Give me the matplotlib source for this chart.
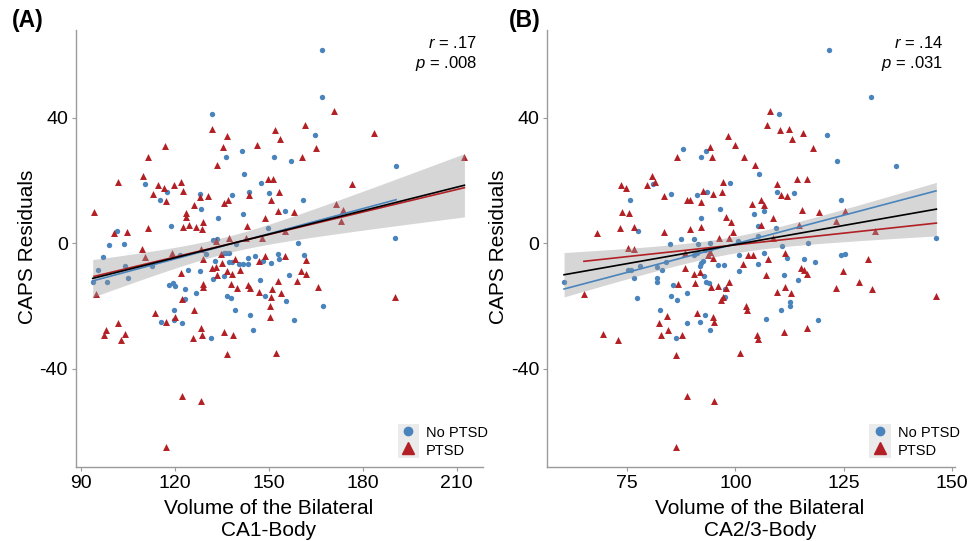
import numpy as np
import matplotlib
matplotlib.use("Agg")
import matplotlib.pyplot as plt
from matplotlib.legend_handler import HandlerTuple
from matplotlib.patches import Rectangle
from matplotlib.lines import Line2D

plt.rcParams['font.family'] = ['Liberation Sans', 'DejaVu Sans']
plt.rcParams['mathtext.fontset'] = 'custom'
plt.rcParams['mathtext.rm'] = 'Liberation Sans'
plt.rcParams['mathtext.it'] = 'Liberation Sans:italic'
plt.rcParams['axes.unicode_minus'] = False

# ---------------- data ----------------
groups = ["No PTSD", "PTSD"]
panel_letters = ["(A)", "(B)"]
xlabels = ["Volume of the Bilateral\nCA1-Body", "Volume of the Bilateral\nCA2/3-Body"]
ylabel = "CAPS Residuals"
stats_text = ["$\\it{r}$ = .17\n$\\it{p}$ = .008", "$\\it{r}$ = .14\n$\\it{p}$ = .031"]
xticksA = [90, 120, 150, 180, 210]
xticksB = [75, 100, 125, 150]
yticks = [-40, 0, 40]

# Panel A: CA1-Body
blueA_x = [167.0,167.0,132.0,164.9,141.4,136.5,151.6,157.2,190.7,142.3,
           110.5,147.5,117.7,143.7,150.1,138.2,128.2,115.5,160.9,128.3,
           141.8,155.4,134.0,119.0,101.6,149.8,99.0,103.8,132.2,133.6,
           159.5,190.2,97.1,95.5,93.9,98.5,104.3,105.1,112.8,118.2,
           119.5,120.3,123.3,124.4,121.8,128.0,129.9,126.9,123.3,119.8,
           119.8,115.8,122.5,131.7,132.4,133.0,135.7,136.5,137.3,137.3,
           138.4,139.7,140.7,142.0,143.4,143.6,145.7,135.9,136.9,138.0,
           139.2,144.2,145.2,147.2,148.9,150.8,148.1,153.0,153.4,155.6,
           156.5,158.1,161.2,167.3]
blueA_y = [61.7,46.6,41.2,34.5,29.5,27.6,27.6,26.1,24.6,22.1,
           19.0,19.3,16.3,16.3,16.1,15.5,15.8,13.7,13.9,10.8,
           9.4,10.4,8.1,5.6,3.9,5.0,-0.5,-0.3,1.1,1.3,
           0.2,1.8,-4.4,-8.6,-12.5,-12.3,-7.2,-11.2,-7.4,-13.4,
           -12.6,-13.6,-14.6,-8.6,-3.8,-8.8,-3.4,-16.0,-17.9,-21.4,
           -24.4,-25.2,-25.4,-30.3,-11.4,-5.7,-3.2,-3.0,-3.0,-5.9,
           -5.9,-0.3,-6.7,-6.7,-6.7,-4.6,-4.0,-10.4,-16.8,-17.6,
           -21.3,-22.9,-27.6,-11.8,-16.8,-6.4,-5.7,-3.4,-5.1,-18.6,
           -10.2,-24.6,-3.8,-20.0]
redA_x = [171.0,132.0,136.7,152.1,161.6,153.8,183.6,117.0,135.5,146.2,
          165.0,111.6,160.8,212.5,133.6,101.9,110.1,122.2,176.6,114.6,
          116.5,119.8,122.8,113.2,117.2,130.7,128.2,149.9,151.4,153.3,
          143.9,150.7,135.7,137.2,126.3,158.0,153.1,171.5,173.6,173.0,
          94.3,123.6,123.7,129.0,122.8,124.5,126.7,128.9,143.2,148.9,
          111.6,100.6,104.7,155.4,109.7,119.1,128.6,137.5,142.9,147.8,
          110.7,94.9,98.2,97.4,102.1,104.1,103.0,113.8,117.4,120.0,
          122.0,122.5,126.2,125.8,128.5,128.8,129.2,129.2,129.2,131.9,
          133.3,133.6,133.1,134.9,135.3,136.8,138.4,138.0,139.4,140.8,
          140.0,135.7,138.5,136.9,143.4,144.1,146.8,147.0,148.8,152.9,
          151.0,150.8,154.1,150.4,150.4,152.5,155.3,159.1,160.5,161.9,
          162.1,165.8,190.5,122.3,128.5,117.2]
redA_y = [42.3,36.4,34.2,36.1,37.8,33.3,35.3,30.9,30.6,31.4,
          30.3,27.6,27.6,27.6,24.8,19.6,21.3,19.6,18.8,18.6,
          17.7,18.6,16.8,15.6,13.6,14.9,14.7,20.4,20.4,16.3,
          15.3,13.7,12.9,13.7,12.3,9.8,10.4,12.6,10.7,7.2,
          10.1,9.5,8.3,6.9,5.1,5.8,5.1,4.5,5.6,8.0,
          4.7,3.3,3.5,3.9,-1.9,-3.2,-1.7,1.6,1.5,1.5,
          -4.3,-16.3,-27.6,-29.3,-25.6,-29.0,-31.0,-22.4,-25.0,-23.5,
          -9.4,-17.9,-21.2,-30.4,-27.1,-29.2,-5.1,-13.0,-13.9,-7.9,
          -7.7,-10.3,0.6,-3.4,-6.4,-8.8,-9.9,-13.0,-5.1,-8.5,
          -14.2,-28.4,-29.2,-35.5,-13.4,-14.4,-15.5,-5.6,-4.0,-12.2,
          -14.6,-17.3,-16.0,-20.1,-23.6,-35.1,-4.0,-12.2,-8.9,-9.7,
          -5.4,-13.9,-17.1,-48.7,-50.4,-65.0]

# Panel B: CA2/3-Body
blueB_x = [121.5,131.3,110.0,121.2,87.8,92.0,93.1,123.4,137.1,105.4,
           81.0,98.8,85.1,91.1,93.5,109.7,113.5,75.6,124.3,96.4,
           104.2,106.6,92.1,77.5,109.4,146.3,84.9,87.5,90.4,94.1,
           100.5,116.8,110.7,105.3,105.3,91.1,92.9,106.6,124.4,125.2,
           100.9,115.8,
           60.4,75.2,75.8,76.5,77.3,77.9,81.8,81.9,81.9,83.1,
           83.9,82.6,85.2,85.6,86.6,86.2,88.8,88.7,91.7,92.9,
           94.2,90.4,
           92.0,92.4,91.7,92.7,93.3,93.9,96.0,97.3,97.5,97.5,
           100.8,105.3,107.0,110.5,111.2,111.9,112.6,112.6,114.5,118.3,119.0,
           91.3,94.0]
blueB_y = [61.7,46.6,41.2,34.5,30.2,27.6,29.3,26.1,24.6,22.1,
           18.9,19.3,15.8,15.5,16.3,16.3,16.1,13.7,13.9,10.8,
           9.4,10.4,8.1,3.9,5.0,1.8,-0.3,1.3,1.4,0.2,
           0.8,0.0,-0.9,2.3,5.6,-3.2,-2.1,-3.2,-3.8,-3.4,
           -3.8,-5.1,
           -12.5,-8.6,-8.6,-11.2,-17.6,-7.2,-7.5,-11.2,-12.3,-8.6,
           -6.1,-21.4,-16.8,-13.4,-18.2,-30.3,-16.0,-25.4,-25.2,-22.9,
           -27.7,-3.8,
           -6.4,-5.6,-7.3,-10.4,-12.3,-12.6,-7.0,-7.0,-14.6,-17.1,
           -8.8,-6.7,-24.2,-21.4,-10.2,-4.6,-18.7,-20.0,-11.8,-6.0,-24.6,
           -0.4,-1.7]
redB_x = [108.0,107.3,110.3,112.4,115.7,113.0,98.3,99.9,94.1,94.5,
          86.5,101.9,117.9,104.4,73.6,74.6,79.6,80.6,81.3,97.2,
          92.5,83.6,88.7,89.6,92.1,94.7,96.9,109.7,110.6,111.9,
          114.3,116.4,73.8,75.3,67.9,73.3,76.6,83.5,89.5,92.1,
          97.8,98.9,99.5,96.2,98.4,103.9,105.9,106.6,105.9,108.7,
          115.3,119.4,114.6,123.3,125.4,132.3,108.6,75.2,76.6,88.3,
          93.7,94.1,102.9,104.1,107.6,111.4,130.6,94.8,
          65.0,69.4,72.9,82.3,82.8,84.1,84.4,87.6,86.3,86.7,
          88.3,90.3,90.7,91.8,91.1,94.4,96.0,94.8,95.1,96.6,
          97.2,97.9,98.4,101.0,101.8,102.4,102.6,105.0,105.3,107.0,
          109.6,111.4,112.8,111.1,115.2,115.8,116.4,116.6,123.3,124.9,
          128.6,131.5,146.4,88.9,95.1,86.3]
redB_y = [42.3,37.8,36.1,36.3,35.3,33.3,34.2,31.4,30.6,27.6,
          27.6,27.6,30.3,24.8,18.6,17.7,18.6,21.3,19.6,19.6,
          16.8,14.9,13.8,13.7,13.0,15.6,16.3,18.8,15.5,14.9,
          20.4,20.4,10.0,9.6,3.2,4.9,5.1,3.6,4.6,5.3,
          8.5,6.9,3.6,1.6,1.5,12.6,13.7,12.3,5.9,8.0,
          10.7,9.8,5.8,7.2,10.4,4.0,1.5,-1.6,-1.9,-3.0,
          -3.8,-2.7,-3.8,-3.8,-4.9,-3.2,-5.1,-4.8,
          -16.3,-29.0,-31.0,-25.6,-29.3,-23.3,-27.6,-29.3,-35.6,-13.1,
          -8.0,-9.9,-12.8,-9.1,-22.4,-13.9,-13.6,-23.7,-25.2,-18.2,
          -17.3,-14.2,-12.3,-35.1,-6.7,-20.1,-21.2,-29.2,-30.6,-10.3,
          -15.5,-13.9,-16.0,-28.5,-7.8,-8.6,-9.7,-27.1,-14.4,-8.9,
          -12.3,-14.6,-16.9,-48.7,-50.4,-65.0]

# ---------------- style ----------------
BLUE = "#4a84bd"
RED = "#b22025"
SPINE = "#9a9a9a"

W, H = 971, 541
fig = plt.figure(figsize=(W / 100, H / 100), dpi=100)

def fit_line(x, y, xs):
    x = np.asarray(x); y = np.asarray(y)
    b, a = np.polyfit(x, y, 1)
    return a + b * xs

def fit_ci(x, y, xs):
    x = np.asarray(x); y = np.asarray(y)
    n = len(x)
    b, a = np.polyfit(x, y, 1)
    resid = y - (a + b * x)
    s = np.sqrt(np.sum(resid ** 2) / (n - 2))
    sxx = np.sum((x - x.mean()) ** 2)
    se = s * np.sqrt(1.0 / n + (xs - x.mean()) ** 2 / sxx)
    t = 1.972
    yhat = a + b * xs
    return yhat - t * se, yhat + t * se

panels = [
    dict(bx=blueA_x, by=blueA_y, rx=redA_x, ry=redA_y, xticks=xticksA,
         rect=[76 / W, 1 - 466.7 / H, (483 - 76) / W, (466.7 - 30) / H],
         xlab_x=0.473, stat_x=0.985, letter_x=27.5),
    dict(bx=blueB_x, by=blueB_y, rx=redB_x, ry=redB_y, xticks=xticksB,
         rect=[547.3 / W, 1 - 466.7 / H, (955 - 547.3) / W, (466.7 - 30) / H],
         xlab_x=0.522, stat_x=0.971, letter_x=524.5),
]

for i, p in enumerate(panels):
    ax = fig.add_axes(p["rect"])
    bx, by = np.asarray(p["bx"]), np.asarray(p["by"])
    rx, ry = np.asarray(p["rx"]), np.asarray(p["ry"])
    ax_all = np.concatenate([bx, rx]); ay_all = np.concatenate([by, ry])

    ax.scatter(bx, by, s=15, marker='o', color=BLUE, linewidths=0, zorder=2)
    ax.scatter(rx, ry, s=25, marker='^', color=RED, linewidths=0, zorder=2)

    xs = np.linspace(ax_all.min(), ax_all.max(), 200)
    lo, hi = fit_ci(ax_all, ay_all, xs)
    ax.fill_between(xs, lo, hi, color='#999999', alpha=0.4, linewidth=0, zorder=3)

    xsb = np.linspace(bx.min(), bx.max(), 100)
    ax.plot(xsb, fit_line(bx, by, xsb), color=BLUE, lw=1.2, zorder=4)
    xsr = np.linspace(rx.min(), rx.max(), 100)
    ax.plot(xsr, fit_line(rx, ry, xsr), color=RED, lw=1.2, zorder=4)
    ax.plot(xs, fit_line(ax_all, ay_all, xs), color='black', lw=1.2, zorder=5)

    xr = ax_all.max() - ax_all.min(); yr = ay_all.max() - ay_all.min()
    ax.set_xlim(ax_all.min() - 0.045 * xr, ax_all.max() + 0.05 * xr)
    ax.set_ylim(ay_all.min() - 0.05 * yr, ay_all.max() + 0.05 * yr)

    ax.set_xticks(p["xticks"])
    ax.set_yticks(yticks)
    ax.tick_params(axis='both', labelsize=14, length=2.8, width=0.8,
                   color=SPINE, pad=3, labelcolor='black')
    for side in ['top', 'right']:
        ax.spines[side].set_visible(False)
    for side in ['left', 'bottom']:
        ax.spines[side].set_color(SPINE)
        ax.spines[side].set_linewidth(1.0)

    ax.set_xlabel(xlabels[i], fontsize=15, linespacing=1.15)
    ax.xaxis.label.set_va('center')
    ax.xaxis.set_label_coords(p["xlab_x"], -0.121)
    ax.set_ylabel(ylabel, fontsize=15)
    ax.yaxis.label.set_va('center')
    ax.yaxis.set_label_coords(-0.12, 0.504)

    ax.text(p["stat_x"], 0.945, stats_text[i], transform=ax.transAxes,
            ha='right', va='center', fontsize=12, multialignment='right',
            linespacing=1.25)

    fig.text(p["letter_x"] / W, 1 - 21 / H, panel_letters[i], fontsize=16.5,
             fontweight='bold', ha='center', va='center')

    hb = (Rectangle((0, 0), 1, 1, facecolor='#ebebeb', edgecolor='none'),
          Line2D([], [], marker='o', ls='none', color=BLUE, markersize=6))
    hr = (Rectangle((0, 0), 1, 1, facecolor='#ebebeb', edgecolor='none'),
          Line2D([], [], marker='^', ls='none', color=RED, markersize=8))
    ax.legend([hb, hr], groups, handler_map={tuple: HandlerTuple(ndivide=1, pad=0)},
              frameon=False, loc='lower left', bbox_to_anchor=(0.79, 0.019),
              borderpad=0, borderaxespad=0, handlelength=1.5, handleheight=1.45,
              labelspacing=0, handletextpad=0.45, fontsize=10.5)

fig.savefig("out.png", dpi=100)
